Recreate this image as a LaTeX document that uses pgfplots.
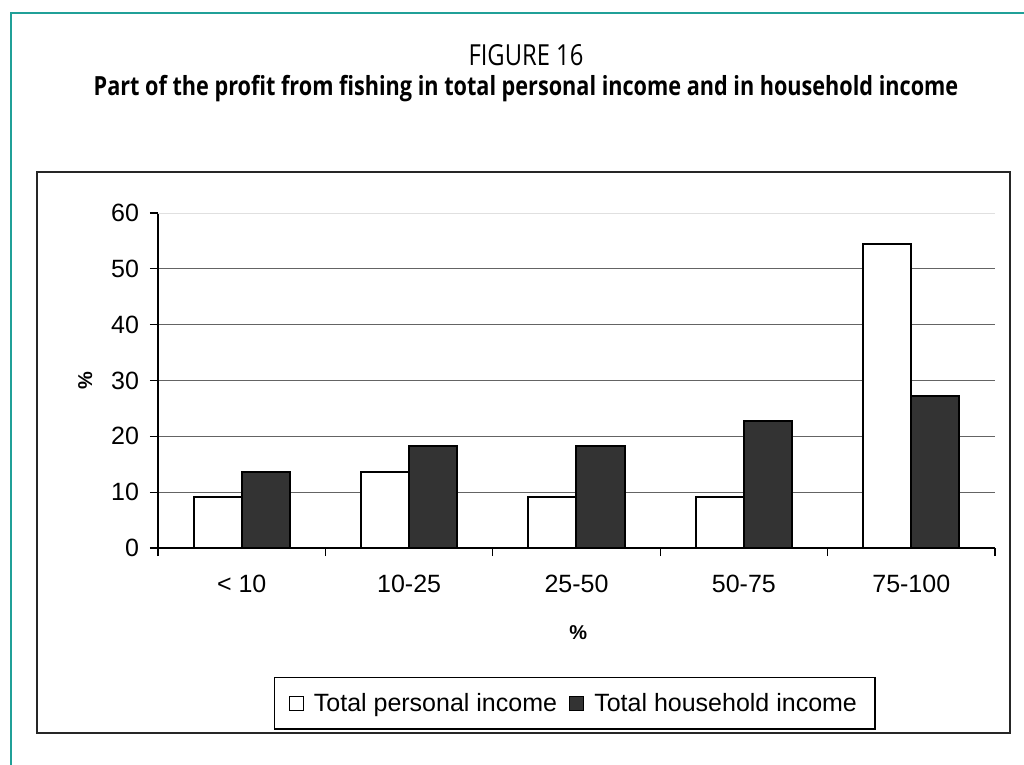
\documentclass[border=0pt]{standalone}
\usepackage{fontspec}
\setmainfont{Liberation Sans}
\newfontfamily\titlefont[FakeStretch=0.82]{Open Sans}
\usepackage{pgfplots}
\pgfplotsset{compat=1.18}
\definecolor{frameteal}{RGB}{32,160,152}
\definecolor{bardark}{RGB}{51,51,51}
\definecolor{gridgray}{RGB}{100,100,100}

\begin{document}
\begin{tikzpicture}
\useasboundingbox (0,0) rectangle (512pt,-382.5pt);
% outer frame and titles
\draw[frameteal, line width=1pt] (5.5pt,-382.5pt) -- (5.5pt,-6.5pt) -- (512pt,-6.5pt);
\node[font=\titlefont\fontsize{14.5}{16}\selectfont, anchor=base, inner sep=0pt] at (263pt,-33pt) {FIGURE 16};
\node[font=\titlefont\bfseries\fontsize{13.2}{15}\selectfont, anchor=base, inner sep=0pt] at (263pt,-48pt)
  {Part of the profit from fishing in total personal income and in household income};
\draw[black!85, line width=0.75pt] (18.5pt,-86pt) rectangle (505pt,-366.5pt);

\begin{axis}[
    scale only axis,
    width=418.5pt, height=167.5pt,
    at={(79pt,-274pt)}, anchor=south west,
    xmin=-0.5, xmax=4.5, ymin=0, ymax=60,
    axis x line=bottom, axis y line=left,
    axis line style={-, black, line width=0.6pt},
    ytick={0,10,20,30,40,50},
    extra y ticks={60},
    extra y tick style={grid style={black!12, line width=0.5pt}},
    ymajorgrids=true,
    grid style={gridgray, line width=0.5pt},
    tick align=outside, major tick length=4pt,
    tick style={black, line width=0.6pt},
    xtick={-0.5,0.5,1.5,2.5,3.5,4.5},
    xticklabels={{< 10},{10-25},{25-50},{50-75},{75-100}},
    x tick label as interval,
    /pgf/number format/assume math mode=true,
    ticklabel style={font=\fontsize{12.5}{15}\selectfont},
    xticklabel style={yshift=-6pt},
    yticklabel style={xshift=-2pt},
    xlabel={\bfseries\%}, ylabel={\bfseries\%},
    label style={font=\fontsize{12.5}{15}\selectfont},
    every axis x label/.style={at={(axis description cs:0.502,-0.254)}, anchor=center},
    every axis y label/.style={at={(axis description cs:-0.087,0.5)}, rotate=90, anchor=center},
    ybar, bar width=0.287,
    legend columns=2,
    legend style={at={(0.498,-0.464)}, anchor=center, draw=black, line width=0.6pt,
        font=\fontsize{12.5}{15}\selectfont, inner xsep=7pt, inner ysep=5.5pt,
        /tikz/every odd column/.append style={column sep=3pt},
        /tikz/every even column/.append style={column sep=4pt}},
    legend image code/.code={\draw[#1, line width=0.6pt] (0pt,-3.5pt) rectangle (7pt,3.5pt);},
]
\addplot[draw=black, fill=white, line width=1pt, bar shift=-0.1435] coordinates {
  (0,9.1) (1,13.6) (2,9.1) (3,9.1) (4,54.5)
};
\addlegendentry{Total personal income}
\addplot[draw=black, fill=bardark, line width=1pt, bar shift=0.1435] coordinates {
  (0,13.6) (1,18.2) (2,18.2) (3,22.7) (4,27.3)
};
\addlegendentry{Total household income}
\end{axis}
\end{tikzpicture}
\end{document}
